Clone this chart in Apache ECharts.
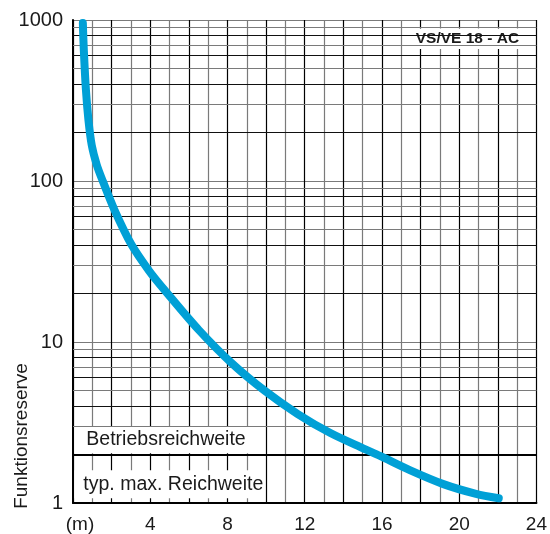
<!DOCTYPE html>
<html>
<head>
<meta charset="utf-8">
<script src="https://cdn.jsdelivr.net/npm/echarts@6/dist/echarts.min.js"></script>
<style>html,body{margin:0;padding:0;background:#fff}#c{width:550px;height:534px}</style>
</head>
<body>
<div id="c"></div>
<script>
// Data
const distance = [0.51, 0.56, 0.67, 0.80, 0.97, 1.23, 1.54, 2.15, 3.01, 3.95, 4.82, 6.51, 8.21, 9.95, 11.64, 13.33, 15.08, 15.90, 17.44, 19.18, 20.87, 22.05];
const reserve  = [958, 651, 367, 239, 167, 126, 100, 66, 40.6, 27.6, 20.5, 11.9, 7.41, 4.96, 3.57, 2.72, 2.17, 1.96, 1.60, 1.31, 1.14, 1.07];
const xTickLabels = {0: '(m)', 4: '4', 8: '8', 12: '12', 16: '16', 20: '20', 24: '24'};
const minorValues = [2,3,4,5,6,7,8,9,20,30,40,50,60,70,80,90,200,300,400,500,600,700,800,900];
const bandLabels = ['Betriebsreichweite', 'typ. max. Reichweite'];
const titleText = 'VS/VE 18 - AC';
const yName = 'Funktionsreserve';

const FONT = '"Liberation Sans", Arial, sans-serif';
const chart = echarts.init(document.getElementById('c'), null, {renderer: 'canvas'});

const minorLines = minorValues.map(v => {
  const m = Math.round(v / Math.pow(10, Math.floor(Math.log10(v))));
  const isRange = (v === 2);
  return {
    yAxis: v,
    lineStyle: {
      color: isRange ? '#000' : (m % 2 === 0 ? '#111' : '#7a7a7a'),
      width: isRange ? 2 : 1.2,
      type: 'solid'
    }
  };
});

const option = {
  animation: false,
  backgroundColor: '#fff',
  grid: {left: 73, right: 9, top: 20, bottom: 31, containLabel: false},
  xAxis: {
    type: 'value', min: 0, max: 24, interval: 1,
    axisLine: {show: true, lineStyle: {color: '#000', width: 2}},
    axisTick: {show: false},
    axisLabel: {
      margin: 12, fontSize: 19, color: '#1a1a1a', fontFamily: FONT,
      formatter: v => (v === 0 ? '{m|(m)}' : (xTickLabels[v] || '')),
      rich: {m: {fontSize: 19, color: '#1a1a1a', fontFamily: FONT, padding: [0, 0, 0, 14]}}
    },
    splitLine: {show: true, lineStyle: {color: ['#000', '#7a7a7a'], width: 1.2}}
  },
  yAxis: {
    type: 'log', logBase: 10, min: 1, max: 1000,
    axisLine: {show: true, lineStyle: {color: '#000', width: 2}},
    axisTick: {show: false},
    axisLabel: {margin: 10, fontSize: 20, color: '#1a1a1a', fontFamily: FONT, formatter: v => String(Math.round(v))},
    splitLine: {show: true, lineStyle: {color: '#7a7a7a', width: 1.2}},
    minorSplitLine: {show: false}
  },
  graphic: [{
    type: 'text', x: 22, y: 436, rotation: Math.PI / 2,
    style: {text: yName, font: '19px ' + FONT, fill: '#1a1a1a', align: 'center', verticalAlign: 'middle'}
  }],
  series: [
    {
      type: 'line', data: [], z: 1, silent: true,
      markLine: {silent: true, symbol: 'none', label: {show: false}, animation: false, data: minorLines}
    },
    {
      type: 'line', data: [], z: 3, silent: true,
      markArea: {
        silent: true,
        itemStyle: {color: '#fff', borderWidth: 0},
        data: [
          [{xAxis: 0.07, yAxis: 2.04, label: {show: true, position: 'insideLeft', distance: 12, formatter: bandLabels[0], fontSize: 19.5, color: '#1a1a1a', fontFamily: FONT}},
           {xAxis: 9.8, yAxis: 2.97}],
          [{xAxis: 0.07, yAxis: 1.07, label: {show: true, position: 'insideLeft', distance: 9, formatter: bandLabels[1], fontSize: 19.5, color: '#1a1a1a', fontFamily: FONT}},
           {xAxis: 9.8, yAxis: 1.6}],
          [{xAxis: 17.45, yAxis: 660, label: {show: true, position: 'inside', formatter: titleText, fontSize: 15.5, fontWeight: 'bold', color: '#1a1a1a', fontFamily: FONT}},
           {xAxis: 23.4, yAxis: 885}]
        ]
      }
    },
    {
      type: 'line', z: 5, smooth: 0.3, showSymbol: false, silent: true,
      data: distance.map((d, i) => [d, reserve[i]]),
      lineStyle: {color: '#00a0d6', width: 8, cap: 'round', join: 'round'}
    }
  ]
};
chart.setOption(option);
</script>
</body>
</html>
